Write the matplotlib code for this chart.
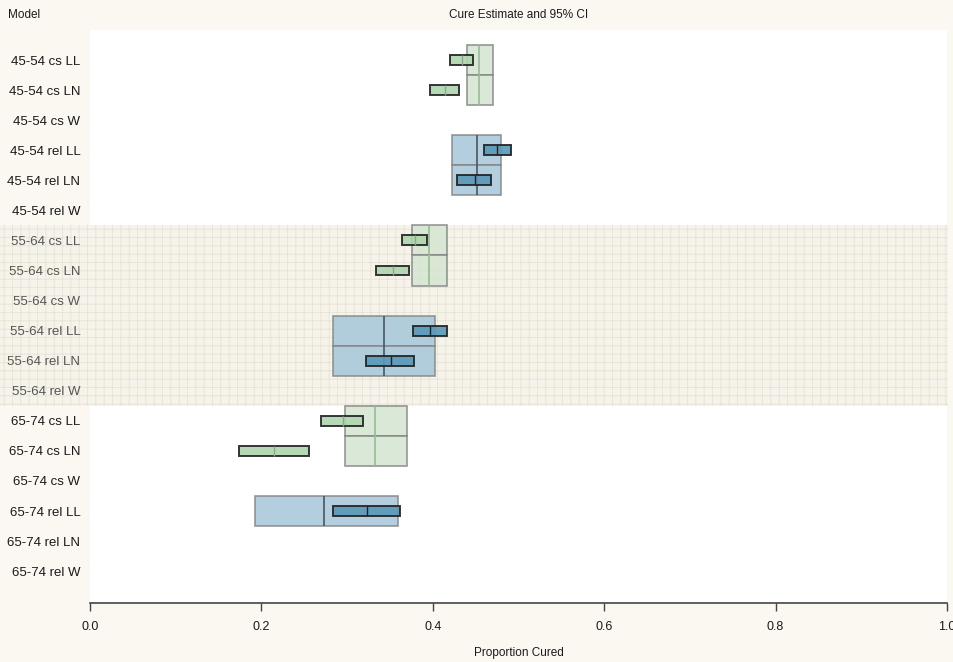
import numpy as np
import matplotlib
matplotlib.use("Agg")
import matplotlib.pyplot as plt
from matplotlib.patches import Rectangle

plt.rcParams['font.family'] = ['Liberation Sans', 'DejaVu Sans']
plt.rcParams['hatch.linewidth'] = 0.5

# model rows
labels = ['45-54 cs LL', '45-54 cs LN', '45-54 cs W',
          '45-54 rel LL', '45-54 rel LN', '45-54 rel W',
          '55-64 cs LL', '55-64 cs LN', '55-64 cs W',
          '55-64 rel LL', '55-64 rel LN', '55-64 rel W',
          '65-74 cs LL', '65-74 cs LN', '65-74 cs W',
          '65-74 rel LL', '65-74 rel LN', '65-74 rel W']
kind = ['cs', 'cs', 'cs', 'rel', 'rel', 'rel'] * 3
nan = np.nan

# per-model cure estimate and 95% CI
est = [0.434, 0.414, nan, 0.475, 0.449, nan,
       0.379, 0.353, nan, 0.397, 0.351, nan,
       0.295, 0.215, nan, 0.323, nan, nan]
lo = [0.420, 0.397, nan, 0.4595, 0.428, nan,
      0.364, 0.334, nan, 0.377, 0.322, nan,
      0.270, 0.174, nan, 0.283, nan, nan]
hi = [0.447, 0.431, nan, 0.491, 0.468, nan,
      0.393, 0.372, nan, 0.417, 0.378, nan,
      0.319, 0.255, nan, 0.362, nan, nan]

# reference (group) estimate and CI shown behind each model
grp_est = [0.454, 0.454, nan, 0.452, 0.452, nan,
           0.396, 0.396, nan, 0.343, 0.343, nan,
           0.333, 0.333, nan, 0.273, nan, nan]
grp_lo = [0.440, 0.440, nan, 0.4225, 0.4225, nan,
          0.376, 0.376, nan, 0.284, 0.284, nan,
          0.297, 0.297, nan, 0.193, nan, nan]
grp_hi = [0.470, 0.470, nan, 0.480, 0.480, nan,
          0.416, 0.416, nan, 0.402, 0.402, nan,
          0.370, 0.370, nan, 0.359, nan, nan]

big_col = {'cs': '#d4e6d1', 'rel': '#a6c7da'}
big_mid = {'cs': '#98bb95', 'rel': '#4a5560'}
small_col = {'cs': '#b0d4ae', 'rel': '#5898b8'}
small_mid = {'cs': '#86ad84', 'rel': '#222222'}

bg = '#fbf8f2'
band_fc = '#f5f3ea'
band_hc = '#e4e0cf'
W, H = 954, 662
fig = plt.figure(figsize=(W / 100, H / 100), dpi=100, facecolor=bg)
ax = fig.add_axes([90 / W, 1 - 603 / H, (947 - 90) / W, (603 - 30) / H])
ax.set_facecolor('white')

n = len(labels)
y = np.arange(n)
ax.set_xlim(0, 1)
ax.set_ylim(n + 0.06, -1.0)

# shaded 55-64 band, across labels too
y0 = 1 - (60 + 5.5 * 30.06) / H
y1 = 1 - (60 + 11.5 * 30.06) / H
band = Rectangle((0, y1), 948 / W, y0 - y1, transform=fig.transFigure,
                 facecolor=band_fc, edgecolor=band_hc, hatch='++',
                 linewidth=0, zorder=-1)
fig.patches.append(band)
ax.axhspan(5.5, 11.5, facecolor=band_fc, edgecolor=band_hc, hatch='++',
           linewidth=0, zorder=0.5)

for i in range(n):
    k = kind[i]
    if not np.isnan(grp_est[i]):
        ax.barh(i, grp_hi[i] - grp_lo[i], left=grp_lo[i], height=1.0,
                color=big_col[k], alpha=0.85, edgecolor='#858585',
                linewidth=1.2, zorder=2)
        ax.vlines(grp_est[i], i - 0.5, i + 0.5, color=big_mid[k],
                  linewidth=1.2, zorder=2.5)
    if not np.isnan(est[i]):
        ax.barh(i, hi[i] - lo[i], left=lo[i], height=0.33,
                color=small_col[k], alpha=0.9, edgecolor='#222222',
                linewidth=1.4, zorder=3)
        ax.vlines(est[i], i - 0.165, i + 0.165, color=small_mid[k],
                  linewidth=1.0, zorder=3.5)

ax.set_yticks(y)
ax.set_yticklabels(labels, fontsize=9.5)
for i, t in enumerate(ax.get_yticklabels()):
    t.set_color('#555555' if 6 <= i <= 11 else '#1a1a1a')
ax.tick_params(axis='y', length=0, pad=7)

ax.set_xticks(np.arange(0, 1.01, 0.2))
ax.set_xticklabels(['0.0', '0.2', '0.4', '0.6', '0.8', '1.0'], fontsize=9)
ax.tick_params(axis='x', length=6, width=1, color='#444444', pad=7,
               labelcolor='#1a1a1a')
ax.set_xlabel('Proportion Cured', fontsize=8.5, labelpad=10, color='#1a1a1a')

for s in ['top', 'right', 'left']:
    ax.spines[s].set_visible(False)
ax.spines['bottom'].set_color('#444444')
ax.spines['bottom'].set_linewidth(1.2)

fig.text(8 / W, 1 - 15 / H, 'Model', fontsize=8.5, va='center', ha='left',
         color='#1a1a1a')
fig.text(519 / W, 1 - 15 / H, 'Cure Estimate and 95% CI', fontsize=8.5,
         va='center', ha='center', color='#1a1a1a')

fig.savefig('out.png', dpi=100, facecolor=bg)
